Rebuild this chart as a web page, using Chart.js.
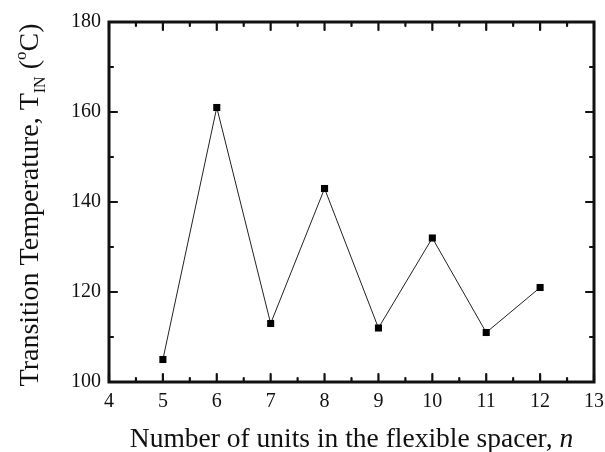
<!DOCTYPE html>
<html>
<head>
<meta charset="utf-8">
<script src="https://cdn.jsdelivr.net/npm/chart.js@4"></script>
<style>
  html, body { margin: 0; padding: 0; background: #fff; }
  #wrap { width: 605px; height: 452px; }
</style>
</head>
<body>
<div id="wrap"><canvas id="chart" width="605" height="452"></canvas></div>
<script>
// data
var spacerUnits = [5, 6, 7, 8, 9, 10, 11, 12];
var transitionTemp = [105, 161, 113, 143, 112, 132, 111, 121];
var xRange = [4, 13];
var yRange = [100, 180];

var serif = '"Liberation Serif", "Times New Roman", serif';

// frame with inward ticks + axis titles with sub/superscripts
var framePlugin = {
    id: 'frame',
    afterDraw: function (chart) {
        var c = chart.ctx, a = chart.chartArea;
        var xs = chart.scales.x, ys = chart.scales.y;
        c.save();
        c.strokeStyle = '#111';
        c.lineCap = 'round';

        // minor and major ticks
        c.lineWidth = 2.2;
        for (var v = xRange[0]; v <= xRange[1]; v += 0.5) {
            var px = xs.getPixelForValue(v);
            var len = (v % 1 === 0) ? 8 : 4;
            c.beginPath();
            c.moveTo(px, a.bottom); c.lineTo(px, a.bottom - len);
            c.moveTo(px, a.top); c.lineTo(px, a.top + len);
            c.stroke();
        }
        for (var w = yRange[0]; w <= yRange[1]; w += 10) {
            var py = ys.getPixelForValue(w);
            var l2 = (w % 20 === 0) ? 8 : 4;
            c.beginPath();
            c.moveTo(a.left, py); c.lineTo(a.left + l2, py);
            c.moveTo(a.right, py); c.lineTo(a.right - l2, py);
            c.stroke();
        }

        c.lineWidth = 3;
        c.lineCap = 'butt';
        c.strokeRect(a.left, a.top, a.right - a.left, a.bottom - a.top);

        c.fillStyle = '#111';
        c.textBaseline = 'alphabetic';
        c.textAlign = 'left';

        // x title
        var xf = '27.5px ' + serif;
        var t1 = 'Number of units in the flexible spacer, ';
        c.font = xf;
        var w1 = c.measureText(t1).width;
        c.font = 'italic ' + xf;
        var w2 = c.measureText('n').width;
        var x0 = (a.left + a.right) / 2 - (w1 + w2) / 2;
        c.font = xf;
        c.fillText(t1, x0, 447);
        c.font = 'italic ' + xf;
        c.fillText('n', x0 + w1, 447);

        // y title
        var big = '28px ' + serif;
        var parts = [
            { t: 'Transition Temperature, T', f: big, dy: 0 },
            { t: 'IN', f: '16px ' + serif, dy: 7 },
            { t: ' (', f: big, dy: 0 },
            { t: 'o', f: '17px ' + serif, dy: -12 },
            { t: 'C)', f: big, dy: 0 }
        ];
        var total = 0;
        parts.forEach(function (p) { c.font = p.f; p.w = c.measureText(p.t).width; total += p.w; });
        c.translate(38, 205);
        c.rotate(-Math.PI / 2);
        var cx = -total / 2;
        parts.forEach(function (p) {
            c.font = p.f;
            c.fillText(p.t, cx, p.dy);
            cx += p.w;
        });
        c.restore();
    }
};

var ctx = document.getElementById('chart').getContext('2d');
var myChart = new Chart(ctx, {
    type: 'line',
    data: {
        datasets: [{
            label: 'T_IN',
            data: spacerUnits.map(function (n, i) { return { x: n, y: transitionTemp[i] }; }),
            borderColor: '#222',
            borderWidth: 1,
            backgroundColor: '#000',
            pointStyle: 'rect',
            pointRadius: 5,
            pointBorderWidth: 0,
            tension: 0
        }]
    },
    options: {
        responsive: false,
        animation: false,
        devicePixelRatio: 1,
        layout: { padding: { top: 22, right: 11, left: 0, bottom: 0 } },
        plugins: {
            legend: { display: false },
            tooltip: { enabled: false }
        },
        scales: {
            x: {
                type: 'linear',
                min: xRange[0],
                max: xRange[1],
                afterFit: function (s) { s.height = 70; s.paddingLeft = 0; s.paddingRight = 0; },
                grid: { display: false, drawTicks: false },
                border: { display: false },
                ticks: {
                    stepSize: 1,
                    padding: 8,
                    color: '#111',
                    font: { family: serif, size: 20 }
                }
            },
            y: {
                min: yRange[0],
                max: yRange[1],
                afterFit: function (s) { s.width = 109; s.paddingTop = 0; s.paddingBottom = 0; },
                grid: { display: false, drawTicks: false },
                border: { display: false },
                ticks: {
                    stepSize: 20,
                    padding: 8,
                    color: '#111',
                    font: { family: serif, size: 20 }
                }
            }
        }
    },
    plugins: [framePlugin]
});
</script>
</body>
</html>
